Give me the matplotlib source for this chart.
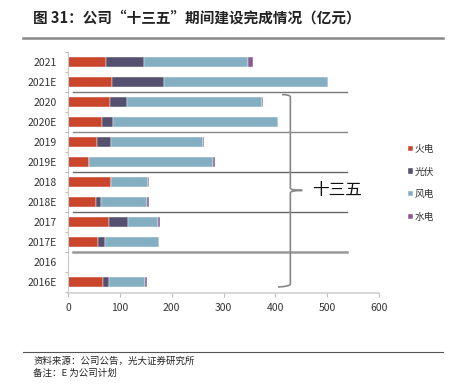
import matplotlib.pyplot as plt
import numpy as np
from matplotlib.path import Path
from matplotlib.patches import PathPatch

plt.rcParams['font.family'] = ['Noto Sans CJK SC', 'DejaVu Sans']

# --- data (亿元) ---
years = ["2021", "2021E", "2020", "2020E", "2019", "2019E", "2018", "2018E",
         "2017", "2017E", "2016", "2016E"]
thermal = [73, 85, 81, 65, 55, 40, 83, 54, 80, 57, 0, 68]
solar = [73, 100, 33, 22, 27, 0, 0, 10, 35, 14, 0, 12]
wind = [202, 316, 260, 319, 178, 240, 71, 89, 58, 105, 0, 69]
hydro = [8, 0, 2, 0, 3, 3, 3, 3, 4, 0, 0, 3]
series_names = ["火电", "光伏", "风电", "水电"]
colors = ["#C9452B", "#55506F", "#84AFC3", "#8C5A90"]

fig = plt.figure(figsize=(4.53, 3.85), dpi=100)
ax = fig.add_axes([68 / 453, 1 - 293 / 385, (379 - 68) / 453, (293 - 52) / 385])

y = np.arange(len(years))
left = np.zeros(len(years))
for vals, name, c in zip([thermal, solar, wind, hydro], series_names, colors):
    ax.barh(y, vals, left=left, height=0.47, color=c, label=name,
            edgecolor="white", linewidth=0.3)
    left += np.array(vals)

ax.set_ylim(len(years) - 0.45, -0.45)
ax.set_xlim(0, 600)
ax.set_yticks(y)
ax.set_yticklabels(years)
ax.set_yticks(np.arange(-0.5, len(years), 1), minor=True)
ax.set_xticks([0, 100, 200, 300, 400, 500, 600])
ax.tick_params(axis="y", which="major", length=0, labelsize=7.5, colors="#333333", pad=8)
ax.tick_params(axis="y", which="minor", length=2.5, color="#BBBBBB", width=0.8)
ax.tick_params(axis="x", length=3, color="#BBBBBB", labelsize=7.5, labelcolor="#333333", pad=4)
for s in ["top", "right"]:
    ax.spines[s].set_visible(False)
ax.spines["left"].set_color("#C8C8C8")
ax.spines["bottom"].set_color("#D0D0D0")
ax.spines["bottom"].set_linewidth(1.2)

# separator lines between actual / plan groups
for yy, col, lw in [(1.5, "#777777", 1.0), (3.5, "#888888", 1.0), (5.5, "#666666", 1.0),
                    (7.5, "#666666", 1.0), (9.5, "#999999", 1.8)]:
    ax.plot([10, 538], [yy, yy], color=col, linewidth=lw, clip_on=False, zorder=1)

# brace for 十三五
xv = 429
verts = [(413, 1.63), (xv, 1.63), (xv, 1.75),      # top hook
         (xv, 6.3), (xv, 6.42), (452, 6.42),       # down to the tip
         (452, 6.42), (xv, 6.42), (xv, 6.54),      # back from the tip
         (xv, 11.1), (xv, 11.22), (405, 11.25)]    # down to bottom hook
codes = [Path.MOVETO, Path.CURVE3, Path.CURVE3,
         Path.LINETO, Path.CURVE3, Path.CURVE3,
         Path.MOVETO, Path.CURVE3, Path.CURVE3,
         Path.LINETO, Path.CURVE3, Path.CURVE3]
ax.add_patch(PathPatch(Path(verts, codes), facecolor="none", edgecolor="#888888",
                       linewidth=1.2, clip_on=False))
ax.text(470, 6.42, "十三五", fontsize=12, va="center", ha="left", color="#111111")

# legend
leg = ax.legend(loc="upper left", bbox_to_anchor=((404 - 68) / 311, 1 - (140 - 52) / 241),
                frameon=False, fontsize=7, handlelength=0.5, handleheight=0.5,
                handletextpad=0.15, labelspacing=1.3, borderaxespad=0)
for t in leg.get_texts():
    t.set_color("#333333")

# title and footer
fig.text(33 / 453, 1 - 18 / 385, "图 31：公司“十三五”期间建设完成情况（亿元）",
         fontsize=10.5, fontweight="bold", va="center", ha="left", color="#222222")
fig.add_artist(plt.Line2D([23 / 453, 443 / 453], [1 - 37.5 / 385] * 2,
                          color="#888888", linewidth=1.8))
fig.add_artist(plt.Line2D([23 / 453, 443 / 453], [1 - 352 / 385] * 2,
                          color="#555555", linewidth=0.8))
fig.text(33 / 453, 1 - 361 / 385, "资料来源：公司公告，光大证券研究所",
         fontsize=6.8, va="center", ha="left", color="#222222")
fig.text(33 / 453, 1 - 373.5 / 385, "备注：E 为公司计划",
         fontsize=6.8, va="center", ha="left", color="#222222")

fig.savefig("out.png", dpi=100)
